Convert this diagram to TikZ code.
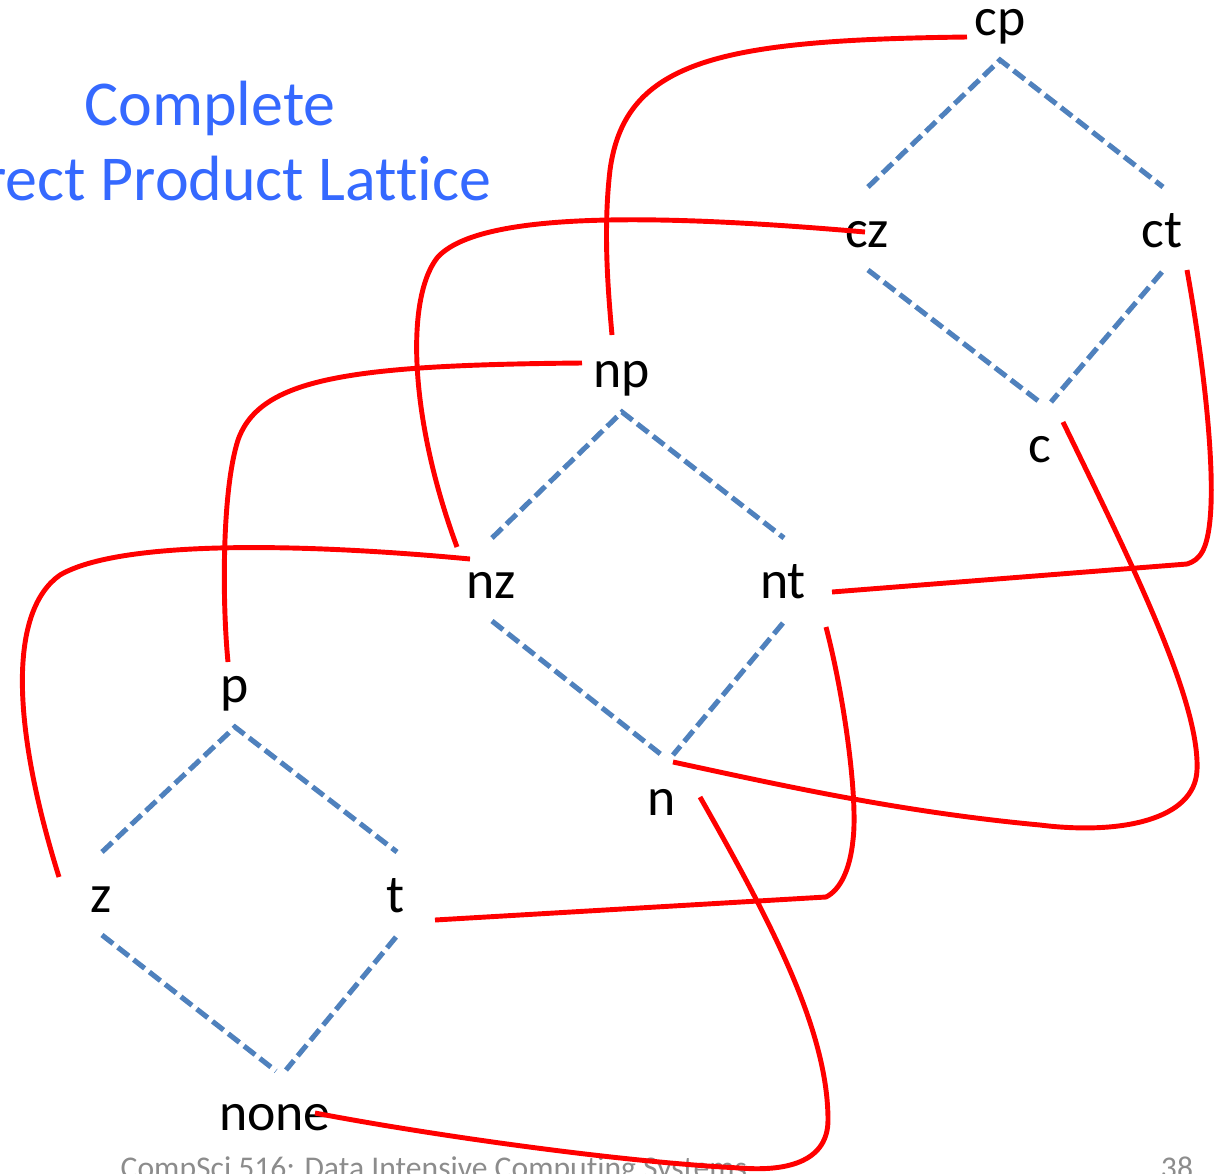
\documentclass[tikz,border=0pt]{standalone}
\usepackage{fontspec}
\setmainfont{Carlito}[Ligatures=CommonOff]
\usepackage{tikz}
\usetikzlibrary{calc}

\definecolor{latblue}{RGB}{79,129,189}
\definecolor{headblue}{RGB}{53,105,255}
\definecolor{footgray}{RGB}{140,140,140}

\begin{document}
\begin{tikzpicture}[x=0.1mm, y=-0.1mm,
    elem/.style={inner sep=0pt, anchor=base, font=\fontsize{15.3}{18}\selectfont},
    head/.style={inner sep=0pt, anchor=base, text=headblue, font=\fontsize{18.2}{22}\selectfont},
    foot/.style={inner sep=0pt, anchor=base, text=footgray, font=\fontsize{9}{11}\selectfont},
    order/.style={latblue, line width=1.45pt, dash pattern=on 4pt off 1.7pt},
    link/.style={red, line width=1.4pt}]
    \useasboundingbox (0,0) rectangle (1222,1173);
    \clip (0,0) rectangle (1222,1173);
    % Title
    \node[head] (title) at (210,125) {Complete};
    \node[head, anchor=base east] (subtitle) at (492,200) {Direct Product Lattice};
    % Elements of the three diamonds
    \node[elem] (cp) at (1000,35) {cp};
    \node[elem] (cz) at (867,247) {cz};
    \node[elem] (ct) at (1162,247) {ct};
    \node[elem] (c) at (1040,462) {c};
    \node[elem] (np) at (622,387) {np};
    \node[elem] (nz) at (491,598) {nz};
    \node[elem] (nt) at (783,598) {nt};
    \node[elem] (n) at (662,815) {n};
    \node[elem] (p) at (235,702) {p};
    \node[elem] (z) at (101,912) {z};
    \node[elem] (t) at (396,912) {t};
    \node[elem] (none) at (275,1130) {none};
    % Footer
    \node[foot, anchor=base west] (course) at (120,1178) {CompSci 516: Data Intensive Computing Systems};
    \node[foot] (page) at (1177,1178) {38};
    % Dashed diamonds
    \foreach \hi/\lw/\rw/\bt in {cp/cz/ct/c, np/nz/nt/n, p/z/t/none} {
        \draw[order] ($(\lw.base)+(1,-60)$) -- ($(\hi.base)+(0,25)$) -- ($(\rw.base)+(1,-60)$);
        \draw[order] ($(\lw.base)+(1,23)$) -- ($(\bt.base)+(1,-59)$);
        \draw[order] ($(\rw.base)+(0,25)$) -- ($(\bt.base)+(11,-60)$);
    }
    % Red links between the diamonds
    \draw[link] ($(cp.base)+(-33,2)$) .. controls (720,40) and (625,60) .. (610,170)
        .. controls (603,230) and (608,290) .. ($(np.base)+(-10,-52)$);
    \draw[link] ($(cz.base)+(-2,-15)$) .. controls (680,216) and (480,208) .. (437,258)
        .. controls (405,300) and (410,420) .. ($(nz.base)+(-34,-51)$);
    \draw[link] ($(np.base)+(-40,-24)$) .. controls (350,365) and (260,378) .. (238,440)
        .. controls (222,490) and (222,600) .. ($(p.base)+(-7,-40)$);
    \draw[link] ($(nz.base)+(-21,-39)$) .. controls (300,543) and (120,540) .. (60,575)
        .. controls (10,610) and (10,720) .. ($(z.base)+(-42,-35)$);
    \draw[link] ($(ct.base)+(25,23)$) .. controls (1205,370) and (1215,470) .. (1210,520)
        .. controls (1207,550) and (1200,560) .. (1187,564) -- ($(nt.base)+(49,-6)$);
    \draw[link] ($(c.base)+(23,-40)$) .. controls (1130,560) and (1200,700) .. (1197,770)
        .. controls (1195,820) and (1120,835) .. (1040,825)
        .. controls (900,812) and (780,785) .. ($(n.base)+(11,-53)$);
    \draw[link] ($(nt.base)+(43,29)$) .. controls (845,700) and (858,800) .. (853,840)
        .. controls (850,870) and (840,890) .. (826,897) -- ($(t.base)+(39,8)$);
    \draw[link] ($(n.base)+(38,-18)$) .. controls (770,920) and (828,1030) .. (828,1120)
        .. controls (828,1160) and (790,1172) .. (740,1168)
        .. controls (620,1162) and (430,1135) .. ($(none.base)+(40,-17)$);
\end{tikzpicture}
\end{document}
